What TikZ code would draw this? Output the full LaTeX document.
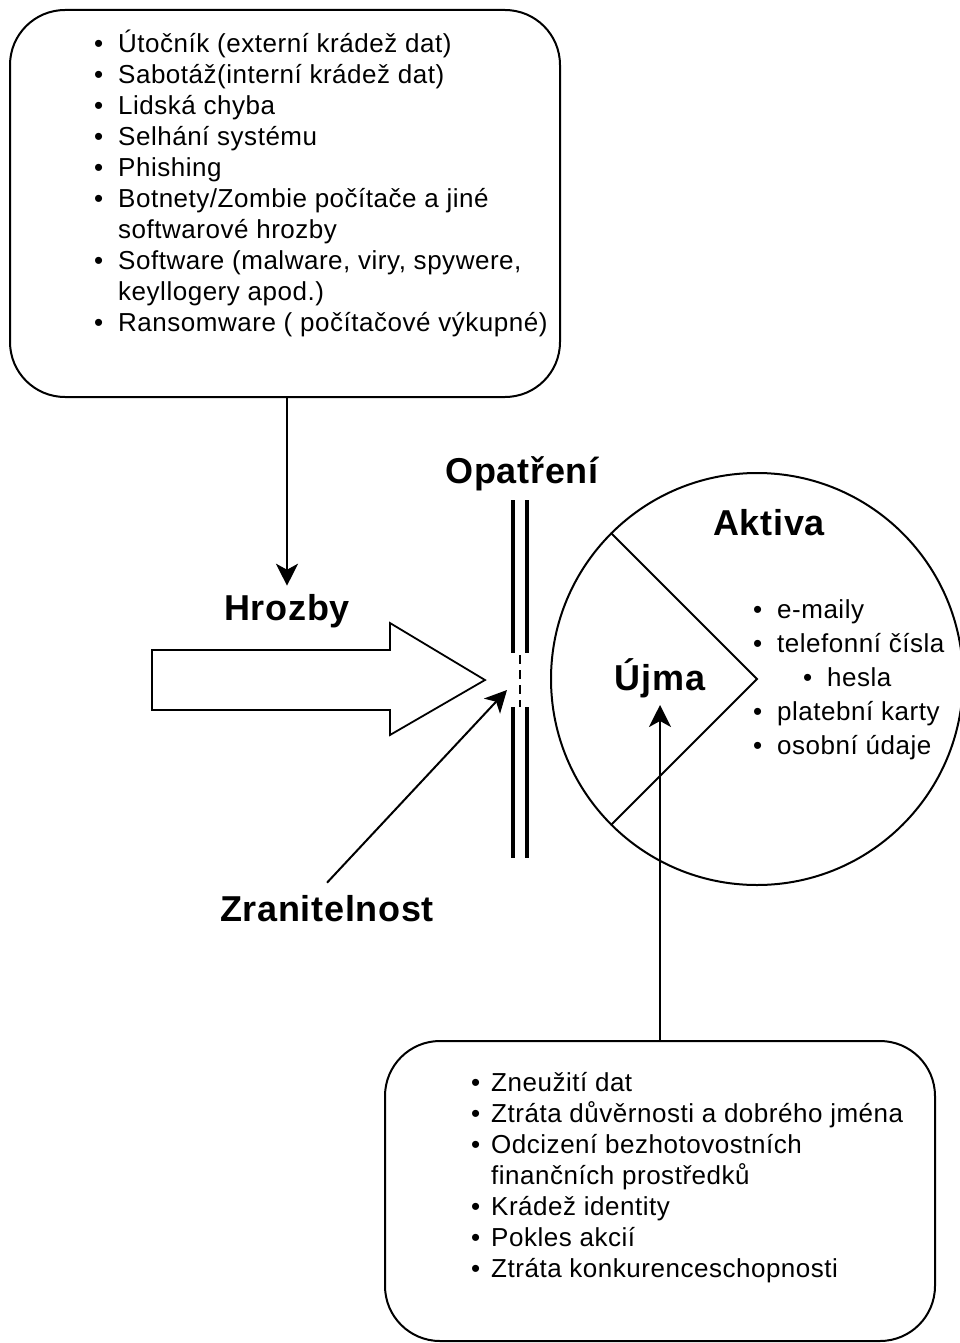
\documentclass[tikz,border=0pt]{standalone}
\usepackage{fontspec}
\setmainfont{Liberation Sans}[LetterSpace=2]
\usetikzlibrary{arrows.meta}
\newcommand\lbul{\makebox[24pt][l]{\textbullet}}
\newcommand\lind{\hspace*{24pt}}
\newcommand\sbul{\makebox[20pt][l]{\textbullet}}
\newcommand\sind{\hspace*{20pt}}
\begin{document}
\begin{tikzpicture}[x=1pt,y=-1pt,
  outline/.style={draw=black, line width=2pt},
  roundbox/.style={outline, rounded corners=55pt, inner sep=0pt},
  conn/.style={line width=2pt, -{Stealth[length=22pt,width=22pt,inset=6pt]}},
  title/.style={font=\fontsize{36}{42}\selectfont\bfseries, inner sep=0pt, anchor=base},
  list/.style={font=\fontsize{26}{31}\selectfont, inner sep=0pt, anchor=base west},
  wall/.style={line width=3.5pt},
]
\useasboundingbox (0,0) rectangle (959,1343);

% threat sources
\node[roundbox, minimum width=550pt, minimum height=387pt] (threats) at (285,203.5) {};
\node[list] (threatlist) at (94,53) {\begin{tabular}[t]{@{}l@{}}
\lbul Útočník (externí krádež dat)\\
\lbul Sabotáž(interní krádež dat)\\
\lbul Lidská chyba\\
\lbul Selhání systému\\
\lbul Phishing\\
\lbul Botnety/Zombie počítače a jiné\\
\lind softwarové hrozby\\
\lbul Software (malware, viry, spywere,\\
\lind keyllogery apod.)\\
\lbul Ransomware ( počítačové výkupné)
\end{tabular}};

% labels
\node[title] (hrozby) at (287,620) {Hrozby};
\node[title] (opatreni) at (522,483) {Opatření};
\node[title] (aktiva) at (769,535) {Aktiva};
\node[title] (ujma) at (660,690) {Újma};
\node[title] (zran) at (327,921) {Zranitelnost};

% threat block arrow
\draw[outline, line width=1.8pt] (152,650) -- (390,650) -- (390,623) -- (485,680)
  -- (390,735) -- (390,710) -- (152,710) -- cycle;

% countermeasure barrier with a gap
\draw[wall] (513,500) -- (513,653);
\draw[wall] (527,500) -- (527,653);
\draw[wall] (513,707) -- (513,858);
\draw[wall] (527,707) -- (527,858);
\draw[line width=2pt, dash pattern=on 9pt off 6pt] (520,655) -- (520,707);
\coordinate (gap) at (507,690);

% assets and harm
\node[circle, outline, minimum size=412pt, inner sep=0pt] (assets) at (757,679) {};
\draw[outline] (assets.135) -- (assets.center) -- (assets.225);
\node[list, font=\fontsize{26}{34}\selectfont] (assetlist) at (753,618) {\begin{tabular}[t]{@{}l@{}}
\lbul e-maily\\
\lbul telefonní čísla\\
\hspace*{50pt}\lbul hesla\\
\lbul platební karty\\
\lbul osobní údaje
\end{tabular}};

% consequences
\node[roundbox, minimum width=550pt, minimum height=300pt] (harm) at (660,1191) {};
\node[list] (harmlist) at (471,1091) {\begin{tabular}[t]{@{}l@{}}
\sbul Zneužití dat\\
\sbul Ztráta důvěrnosti a dobrého jména\\
\sbul Odcizení bezhotovostních\\
\sind finančních prostředků\\
\sbul Krádež identity\\
\sbul Pokles akcií\\
\sbul Ztráta konkurenceschopnosti
\end{tabular}};

% connectors
\draw[conn] (threats.south -| hrozby.north) -- ([yshift=8pt]hrozby.north);
\draw[conn] ([yshift=12pt]zran.north) -- (gap);
\draw[conn] (harm.north) -- ([yshift=-15pt]ujma.base);
\end{tikzpicture}
\end{document}
